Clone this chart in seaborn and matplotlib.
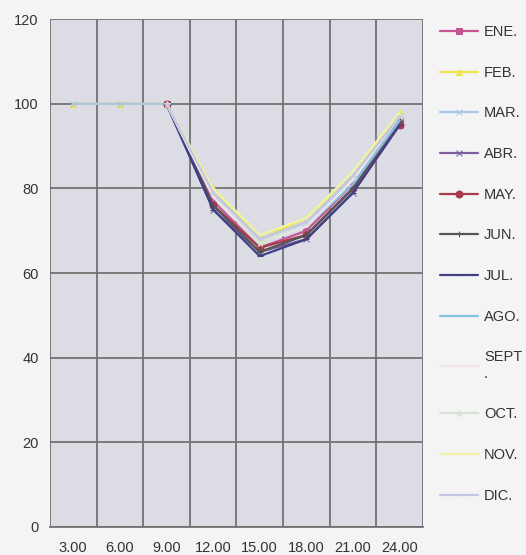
import numpy as np
import pandas as pd
import matplotlib
matplotlib.use("Agg")
import matplotlib.pyplot as plt
import seaborn as sns

hours = [3, 6, 9, 12, 15, 18, 21, 24]
hour_labels = ["3.00", "6.00", "9.00", "12.00", "15.00", "18.00", "21.00", "24.00"]
months = ["ENE.", "FEB.", "MAR.", "ABR.", "MAY.", "JUN.", "JUL.", "AGO.", "SEPT\n.", "OCT.", "NOV.", "DIC."]

nan = np.nan
ene = [nan, nan, 100, 77, 66, 70, 81, 96]
feb = [100, 100, 100, 80, 68, 73, 83, 98]
mar = [100, 100, 100, 79, 68, 72, 82, 97]
abr = [nan, nan, 100, 75, 65, 68, 79, 95]
may = [nan, nan, 100, 76, 66, 69, 80, 95]
jun = [nan, nan, 100, 76, 65, 69, 80, 96]
jul = [nan, nan, 100, 75, 64, 68, 79, 95]
ago = [nan, nan, 100, 78, 67, 71, 81, 96]
sept = [nan, nan, 100, 78, 67, 71, 82, 97]
octu = [nan, nan, 100, 79, 67, 72, 83, 97]
nov = [nan, nan, 100, 80, 69, 73, 84, 98]
dic = [nan, nan, 100, 79, 68, 72, 83, 97]
series = [ene, feb, mar, abr, may, jun, jul, ago, sept, octu, nov, dic]

colors = ["#c4558f", "#eee44a", "#a9c6e6", "#7d5e9c", "#a83a4a", "#555555",
          "#3f3f86", "#86c3e3", "#f1e6ea", "#d7e2d4", "#f0f2a6", "#c4c6e6"]
markers = ["s", "^", "x", "x", "o", "+", "_", None, None, "*", None, "_"]

sns.set_style("white")
plt.rcParams["font.family"] = ["Liberation Sans", "DejaVu Sans"]

fig = plt.figure(figsize=(5.26, 5.55), dpi=100)
fig.patch.set_facecolor("#f4f4f5")
ax = fig.add_axes([0.095, 0.0505, 0.709, 0.915])
ax.set_facecolor("#dcdde4")

for m, vals, c, mk in zip(months, series, colors, markers):
    d = pd.DataFrame({"hora": hours, "valor": vals}).dropna()
    sns.lineplot(data=d, x="hora", y="valor", color=c, marker=mk, label=m,
                 linewidth=1.6, markersize=5, markeredgecolor=c, ax=ax)

ax.set_xlim(1.5, 25.5)
ax.set_ylim(0, 120)
ax.set_xticks(hours)
ax.set_xticklabels(hour_labels)
ax.set_xticks(np.arange(1.5, 25.6, 3), minor=True)
ax.set_yticks(range(0, 121, 20))
ax.grid(False)
ax.grid(True, which="minor", axis="x", color="#727272", linewidth=1.3)
ax.grid(True, which="major", axis="y", color="#727272", linewidth=1.3)
ax.set_axisbelow(True)
ax.tick_params(axis="x", which="major", length=0, labelsize=10.5, colors="#333333", pad=10)
ax.tick_params(axis="x", which="minor", length=6, color="#727272", width=1.2, direction="out")
ax.tick_params(axis="y", length=6, color="#727272", width=1.2, direction="out",
               labelsize=10.5, labelcolor="#333333", pad=2)
for s in ["top", "right", "left"]:
    ax.spines[s].set_visible(False)
ax.spines["bottom"].set_color("#727272")
ax.spines["bottom"].set_linewidth(1.3)
ax.set_xlabel("")
ax.set_ylabel("")

leg = ax.legend(loc="upper left", bbox_to_anchor=(1.031, 1.0), frameon=False,
                fontsize=10.5, labelspacing=1.83, handlelength=2.6,
                handletextpad=0.4, borderaxespad=0.0)
for t in leg.get_texts():
    t.set_color("#333333")

fig.savefig("out.png", dpi=100, facecolor=fig.get_facecolor())
